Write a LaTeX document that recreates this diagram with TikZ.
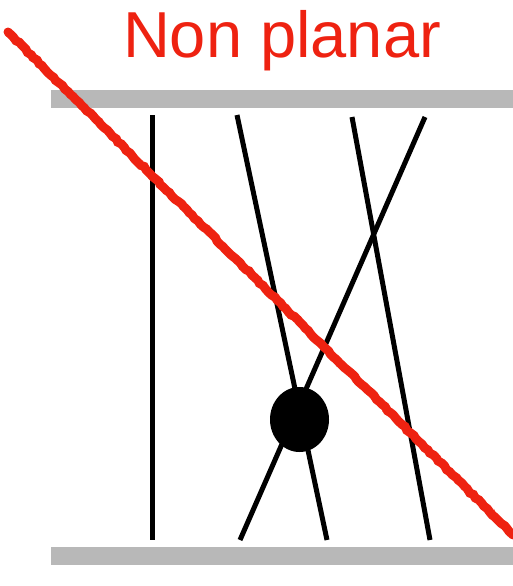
\documentclass[tikz,border=0pt]{standalone}
\usepackage{fontspec}
\setmainfont{Liberation Sans}
\usetikzlibrary{decorations.pathmorphing,shapes.geometric}
\definecolor{redmark}{HTML}{EE2211}
\definecolor{bargray}{HTML}{B8B8B8}
\begin{document}
\begin{tikzpicture}[x=1pt,y=-1pt,
  strand/.style={line width=5pt,black},
  bar/.style={fill=bargray,draw=none},
  cross/.style={redmark,line width=9pt,line cap=round,decorate,decoration={random steps,segment length=4pt,amplitude=0.8pt}}]
\useasboundingbox (0,0) rectangle (513,586);
\fill[bar] (51,90) rectangle (513,108);
\fill[bar] (51,547) rectangle (513,565);
\coordinate (a1) at (152,115); \coordinate (a2) at (152,540);
\coordinate (b1) at (237,115); \coordinate (b2) at (327,540);
\coordinate (c1) at (352,117); \coordinate (c2) at (430,540);
\coordinate (d1) at (425,117); \coordinate (d2) at (240,540);
\draw[strand] (a1) -- (a2);
\draw[strand] (b1) -- (b2);
\draw[strand] (c1) -- (c2);
\draw[strand] (d1) -- (d2);
\node[ellipse,fill=black,minimum width=59pt,minimum height=65pt,inner sep=0pt] (blob) at (299.5,419.5) {};
\node[text=redmark,font=\fontsize{65}{65}\selectfont,anchor=base] (title) at (282,57) {Non planar};
\coordinate (r1) at (8,32); \coordinate (r2) at (513,535);
\draw[cross] (r1) -- (r2);
\draw[redmark,line width=3pt,opacity=0.8,decorate,decoration={random steps,segment length=3pt,amplitude=2pt}] (r1) -- (r2);
\end{tikzpicture}
\end{document}
